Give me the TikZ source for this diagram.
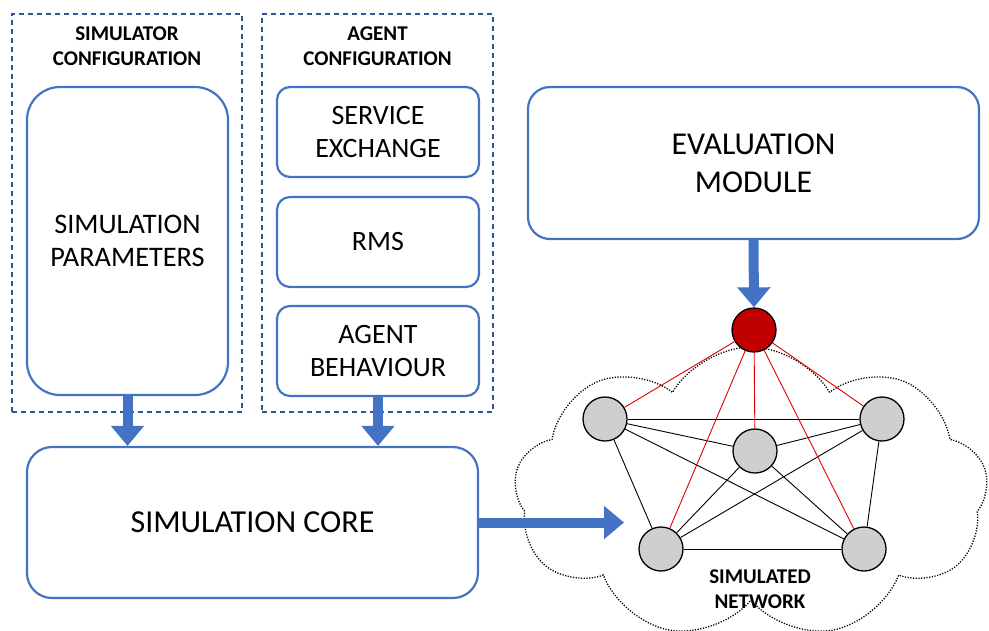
\documentclass[tikz,border=0pt]{standalone}
\usepackage{fontspec}
\setmainfont{Carlito}
\usetikzlibrary{arrows.meta,shapes.symbols}
\definecolor{bl}{HTML}{4472C4}
\definecolor{dbl}{HTML}{2F5597}
\definecolor{rn}{HTML}{C00000}
\definecolor{gn}{HTML}{D0CECE}
\definecolor{rl}{HTML}{E00000}
\begin{document}
\begin{tikzpicture}[x=1pt,y=-1pt,
  box/.style={draw=bl, line width=2.2pt, align=center, inner sep=0pt, fill=white},
  grp/.style={draw=dbl, line width=1.2pt, dash pattern=on 5pt off 4pt, inner sep=0pt},
  hdr/.style={align=center, font=\fontsize{21}{25}\selectfont\bfseries},
  blk/.style={draw=bl, line width=10pt, -{Triangle[width=32pt,length=20pt]}},
  gnode/.style={circle, draw=black, line width=1.3pt, fill=gn, minimum size=44pt, inner sep=0pt},
  rnode/.style={circle, draw=black, line width=1.3pt, fill=rn, minimum size=44pt, inner sep=0pt},
  bedge/.style={draw=black, line width=0.9pt},
  redge/.style={draw=rl, line width=0.9pt},
  cloudshape/.style={cloud, cloud puffs=9, cloud puff arc=120, aspect=1.7, draw=black,
     line width=1.3pt, dash pattern=on 1.2pt off 1.5pt, inner sep=0pt}
]
\useasboundingbox (0,0) rectangle (989,630);

% cloud
\node[cloudshape, minimum width=474pt, minimum height=292pt] (cl) at (751,493) {};

% groups
\node[grp, minimum width=230pt, minimum height=398pt] (g1) at (127,213) {};
\node[grp, minimum width=231pt, minimum height=398pt] (g2) at (377.5,213) {};
\node[hdr] (h1) at (127,46) {SIMULATOR\\CONFIGURATION};
\node[hdr] (h2) at (377.5,46) {AGENT\\CONFIGURATION};

% boxes
\node[box, rounded corners=33pt, minimum width=201pt, minimum height=308pt,
      font=\fontsize{28.3}{33}\selectfont] (sp) at (127.5,241) {SIMULATION\\PARAMETERS};
\node[box, rounded corners=13pt, minimum width=202pt, minimum height=90pt,
      font=\fontsize{28}{33}\selectfont] (se) at (378,132) {SERVICE\\EXCHANGE};
\node[box, rounded corners=13pt, minimum width=202pt, minimum height=90pt,
      font=\fontsize{28}{33}\selectfont] (rms) at (378,242) {RMS};
\node[box, rounded corners=13pt, minimum width=202pt, minimum height=90pt,
      font=\fontsize{28}{33}\selectfont] (ab) at (378,351) {AGENT\\BEHAVIOUR};
\node[box, rounded corners=25pt, minimum width=451pt, minimum height=151pt,
      font=\fontsize{32}{38}\selectfont] (core) at (252.5,522.5) {SIMULATION CORE};
\node[box, rounded corners=22pt, minimum width=451pt, minimum height=152pt,
      font=\fontsize{31.8}{38}\selectfont] (eval) at (753.5,163) {EVALUATION\\MODULE};

% network nodes
\node[rnode] (r) at (754,330) {};
\node[gnode] (lt) at (605,419) {};
\node[gnode] (c) at (755,451) {};
\node[gnode] (rt) at (882,419) {};
\node[gnode] (lb) at (661,549) {};
\node[gnode] (rb) at (864,549) {};
\node[hdr] (net) at (760,589) {SIMULATED\\NETWORK};

% black edges
\draw[bedge] (lt) -- (rt);
\draw[bedge] (lt) -- (c);
\draw[bedge] (lt) -- (lb);
\draw[bedge] (lt) -- (rb);
\draw[bedge] (c) -- (rt);
\draw[bedge] (c) -- (lb);
\draw[bedge] (c) -- (rb);
\draw[bedge] (rt) -- (lb);
\draw[bedge] (rt) -- (rb);
\draw[bedge] (lb) -- (rb);
% red edges
\draw[redge] (r) -- (lt);
\draw[redge] (r) -- (c);
\draw[redge] (r) -- (rt);
\draw[redge] (r) -- (lb);
\draw[redge] (r) -- (rb);

% block arrows
\coordinate (tipnet) at (624,522.5);
\draw[blk] (sp.south) -- (sp.south |- core.north);
\draw[blk] (ab.south) -- (ab.south |- core.north);
\draw[blk] (eval.south) -- (r.north);
\draw[blk] (core.east) -- (tipnet);
\end{tikzpicture}
\end{document}
